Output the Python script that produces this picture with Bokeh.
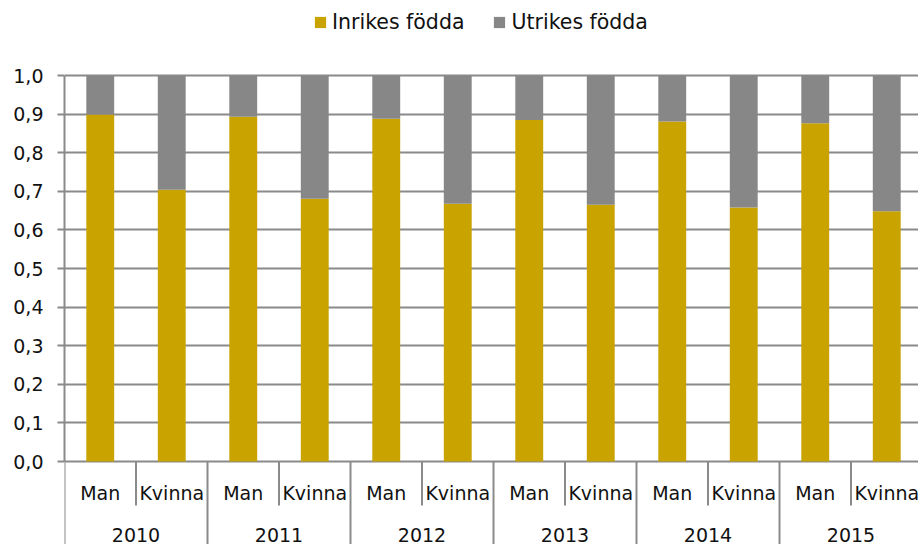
from bokeh.plotting import figure
from bokeh.models import (ColumnDataSource, Range1d, FixedTicker, CustomJSTickFormatter,
                          Legend, LegendItem)
from bokeh.core.properties import value
from bokeh.embed import file_html
from bokeh.resources import INLINE

# ---- data ----
years = ["2010", "2011", "2012", "2013", "2014", "2015"]
genders = ["Man", "Kvinna"]
inrikes = [0.899, 0.704, 0.893, 0.681, 0.888, 0.668, 0.885, 0.665, 0.881, 0.658, 0.876, 0.648]
utrikes = [0.101, 0.296, 0.107, 0.319, 0.112, 0.332, 0.115, 0.335, 0.119, 0.342, 0.124, 0.352]
y_ticks = [0.0, 0.1, 0.2, 0.3, 0.4, 0.5, 0.6, 0.7, 0.8, 0.9, 1.0]

GOLD = "#C9A300"
GRAY = "#878787"
LINE = "#8A8A8A"
FONT = "DejaVu Sans"
FS = "19px"

cats = [(y, g) for y in years for g in genders]
n = len(cats)
src = ColumnDataSource(dict(
    x=[i + 0.5 for i in range(n)],
    inrikes=inrikes,
    utrikes=utrikes,
    gender=[g for _, g in cats],
))
ysrc = ColumnDataSource(dict(x=[2 * k + 1.0 for k in range(len(years))], year=years))

# layout constants (pixels)
W, H = 918, 544
LEFT = 64
PX_UNIT = 386.0           # pixels per 1.0 on y
ZERO_FROM_BOTTOM = 83.0   # pixels from frame bottom to y=0
CAT_PX = 71.5

y_bottom = -ZERO_FROM_BOTTOM / PX_UNIT
y_top = y_bottom + H / PX_UNIT
x_end = (W - LEFT) / CAT_PX

p = figure(width=W, height=H, output_backend="svg", toolbar_location=None,
           x_range=Range1d(0, x_end), y_range=Range1d(y_bottom, y_top),
           min_border_left=LEFT, min_border_right=0, min_border_top=0, min_border_bottom=0)
p.outline_line_color = None
p.xaxis.visible = False
p.xgrid.visible = False

# y axis
ya = p.yaxis[0]
ya.ticker = FixedTicker(ticks=y_ticks)
ya.bounds = (0, 1)
ya.formatter = CustomJSTickFormatter(code="return tick.toFixed(1).replace('.', ',')")
ya.axis_line_color = LINE
ya.axis_line_width = 2
ya.major_tick_line_color = LINE
ya.major_tick_line_width = 2
ya.major_tick_in = 0
ya.major_tick_out = 7
ya.minor_tick_line_color = None
ya.major_label_standoff = 14
ya.major_label_text_font = FONT
ya.major_label_text_font_size = FS
ya.major_label_text_color = "#111111"

p.ygrid.ticker = FixedTicker(ticks=y_ticks)
p.ygrid.grid_line_color = LINE
p.ygrid.grid_line_width = 2

# bars
rs = p.vbar_stack(["inrikes", "utrikes"], x="x", width=0.39, source=src,
                  color=[GOLD, GRAY], line_color=None)

# category separators and labels
sep_in = [2 * k + 1.0 for k in range(len(years))]
sep_year = [2.0 * k for k in range(len(years) + 1)]
p.segment(x0=sep_in, x1=sep_in, y0=[0] * len(sep_in), y1=[-44 / PX_UNIT] * len(sep_in),
          line_color=LINE, line_width=2)
p.segment(x0=sep_year, x1=sep_year, y0=[0] * len(sep_year), y1=[y_bottom] * len(sep_year),
          line_color=LINE, line_width=2)

p.text(x="x", y=-31 / PX_UNIT, text="gender", source=src, text_align="center",
       text_baseline="middle", text_font=value(FONT), text_font_size=FS, text_color="#111111")
p.text(x="x", y=-73 / PX_UNIT, text="year", source=ysrc, text_align="center",
       text_baseline="middle", text_font=value(FONT), text_font_size=FS, text_color="#111111")

legend = Legend(items=[LegendItem(label="Inrikes födda", renderers=[rs[0]]),
                       LegendItem(label="Utrikes födda", renderers=[rs[1]])],
                orientation="horizontal", location=(249, 510),
                glyph_width=14, glyph_height=14, label_standoff=5, spacing=28,
                padding=0, margin=0, border_line_color=None, background_fill_alpha=0,
                label_text_font=FONT, label_text_font_size="20.5px", label_text_color="#111111")
p.add_layout(legend)

open("out.html", "w").write(file_html(p, INLINE))
